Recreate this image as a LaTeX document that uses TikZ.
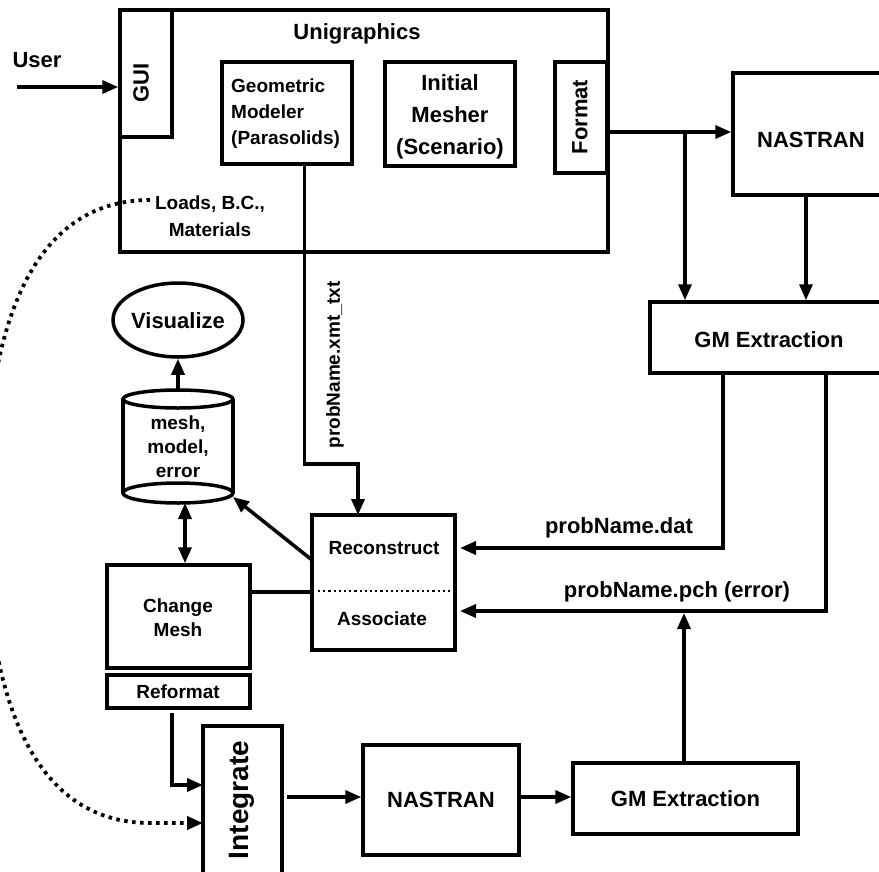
\documentclass[tikz,border=0pt]{standalone}
\usepackage{fontspec}
\setmainfont{Liberation Sans}
\usetikzlibrary{arrows.meta,calc,shapes.geometric}
\begin{document}
\begin{tikzpicture}[x=1pt,y=-1pt,
 box/.style={draw, line width=3.5pt, inner sep=0pt, align=center},
 txt/.style={inner sep=0pt, align=center},
 big/.style={font=\fontsize{22}{26}\selectfont\bfseries},
 small/.style={font=\fontsize{19}{25}\selectfont\bfseries},
 plain/.style={line width=3.5pt},
 arr/.style={line width=3.5pt, -{Triangle[length=16pt,width=13pt]}},
 darr/.style={line width=3.5pt, {Triangle[length=16pt,width=13pt]}-{Triangle[length=16pt,width=13pt]}},
 dots/.style={line width=3.8pt, dash pattern=on 3.5pt off 4.5pt},
 fine dots/.style={line width=2.2pt, dash pattern=on 2.2pt off 3pt},
]
\useasboundingbox (0,0) rectangle (879,871);
\clip (0,0) rectangle (879,871);
\fill[white] (0,0) rectangle (879,871);

% ---------- Unigraphics block ----------
\node[box, minimum width=488, minimum height=242] (uni) at (364,131) {};
\node[txt,big] (unit) at (357,34) {Unigraphics};
\node[box, minimum width=52, minimum height=127] (gui) at (146,73.5) {};
\node[txt,big,rotate=90] (guit) at (141,83) {GUI};
\node[box, minimum width=130, minimum height=102] (geo) at (287,113) {};
\node[txt,font=\fontsize{19}{26}\selectfont\bfseries,align=left,anchor=west] (geot) at (231,114) {Geometric\\Modeler\\(Parasolids)};
\node[box, minimum width=130, minimum height=104] (mesher) at (450,114) {};
\node[txt,font=\fontsize{22}{32}\selectfont\bfseries] (mesht) at (450,117) {Initial\\Mesher\\(Scenario)};
\node[box, minimum width=52, minimum height=111] (fmt) at (581,117.5) {};
\node[txt,big,rotate=90] (fmtt) at (580,117) {Format};
\node[txt,font=\fontsize{19}{27}\selectfont\bfseries] (loads) at (210,216) {Loads, B.C.,\\Materials};
\node[txt,big] (user) at (37,60) {User};

% ---------- right column ----------
\node[box, minimum width=157, minimum height=122] (nas1) at (811.5,134) {};
\node[txt,big] (nas1t) at (811,140) {NASTRAN};
\node[box, minimum width=238, minimum height=71] (gm1) at (769,337.5) {};
\node[txt,big] (gm1t) at (769,340) {GM Extraction};

% ---------- left middle ----------
\node[draw, line width=3.5pt, ellipse, inner sep=0pt, minimum width=130, minimum height=74] (vis) at (178,320) {};
\node[txt,big] (vist) at (178,321) {Visualize};
\draw[plain] (123,399) -- (123,493);
\draw[plain] (233,399) -- (233,493);
\draw[plain] (178,399) ellipse [x radius=55, y radius=9];
\draw[plain] (178,493) ellipse [x radius=55, y radius=10];
\node[txt,font=\fontsize{19}{24}\selectfont\bfseries] (cyl) at (178,447) {mesh,\\model,\\error};
\coordinate (cyltop) at (178,390);
\coordinate (cylbot) at (185,503);
\coordinate (cylbr) at (233,497);

\node[box, minimum width=143, minimum height=135] (recon) at (383.5,582.5) {};
\node[txt,small] (recont) at (384,548) {Reconstruct};
\node[txt,small] (assoct) at (382,619) {Associate};
\coordinate (dl) at (318,591);
\coordinate (dr) at (450,591);
\draw[fine dots] (dl) -- (dr);

\node[box, minimum width=143, minimum height=103] (change) at (178.5,616.5) {};
\node[txt,font=\fontsize{19}{24}\selectfont\bfseries] (changet) at (178,618) {Change\\Mesh};
\node[box, minimum width=143, minimum height=33] (reformat) at (178.5,691.5) {};
\node[txt,small] (reformatt) at (178,692) {Reformat};

% ---------- bottom row ----------
\node[box, minimum width=79, minimum height=154] (integ) at (242.5,803) {};
\node[txt,font=\fontsize{28}{30}\selectfont\bfseries,rotate=90] (integt) at (242,800) {Integrate};
\node[box, minimum width=156, minimum height=110, big] (nas2) at (441,800) {NASTRAN};
\node[box, minimum width=225, minimum height=71, big] (gm2) at (685.5,798.5) {GM Extraction};

% ---------- labels on connectors ----------
\node[txt,small,rotate=90] (xmt) at (335,365) {probName.xmt\_txt};
\node[txt,big] (dat) at (619,528) {probName.dat};
\node[txt,big] (pch) at (677,592) {probName.pch (error)};

% ---------- connectors ----------
\coordinate (userstart) at (17,87);
\draw[arr] (userstart) -- (gui.west |- userstart);

\coordinate (geoout) at ($(geo.south west)+(84,0)$);
\coordinate (jog) at (358,464);
\coordinate (rin) at (358,515);
\draw[arr] (geoout) |- (jog) -- (rin);

\coordinate (fo) at (608,132);
\draw[arr] (fo) -- (nas1.west |- fo);
\coordinate (br) at (685,132);
\draw[arr] (br) -- (gm1.north -| br);
\coordinate (n1o) at (806,195);
\draw[arr] (n1o) -- (gm1.north -| n1o);

\coordinate (g1a) at (723,373);
\coordinate (rr) at (460,548);
\draw[arr] (g1a) |- (rr);
\coordinate (g1b) at (826,373);
\coordinate (ra) at (460,611);
\draw[arr] (g1b) |- (ra);
\coordinate (pchin) at (684,613);
\draw[arr] (gm2.north -| pchin) -- (pchin);

\draw[arr] (cyltop) -- (vis.south);
\draw[darr] (cylbot) -- (change.north -| cylbot);
\coordinate (rl) at (312,560);
\draw[arr] (rl) -- (cylbr);
\coordinate (cm) at (250,592);
\draw[plain] (cm) -- (recon.west |- cm);

\coordinate (rf) at (172,713);
\coordinate (ii) at (203,785);
\draw[arr] (rf) |- (ii);
\coordinate (io) at (287,797);
\draw[arr] (io) -- (nas2.west |- io);
\coordinate (no) at (519,797);
\draw[arr] (no) -- (gm2.west |- no);

\coordinate (ls) at (150,200);
\coordinate (id) at (203,823);
\draw[dots, -{Triangle[length=16pt,width=13pt]}] (ls) .. controls (30,200) and (-15,330) .. (-15,511)
  .. controls (-15,692) and (30,823) .. (150,823) -- (id);
\end{tikzpicture}
\end{document}
